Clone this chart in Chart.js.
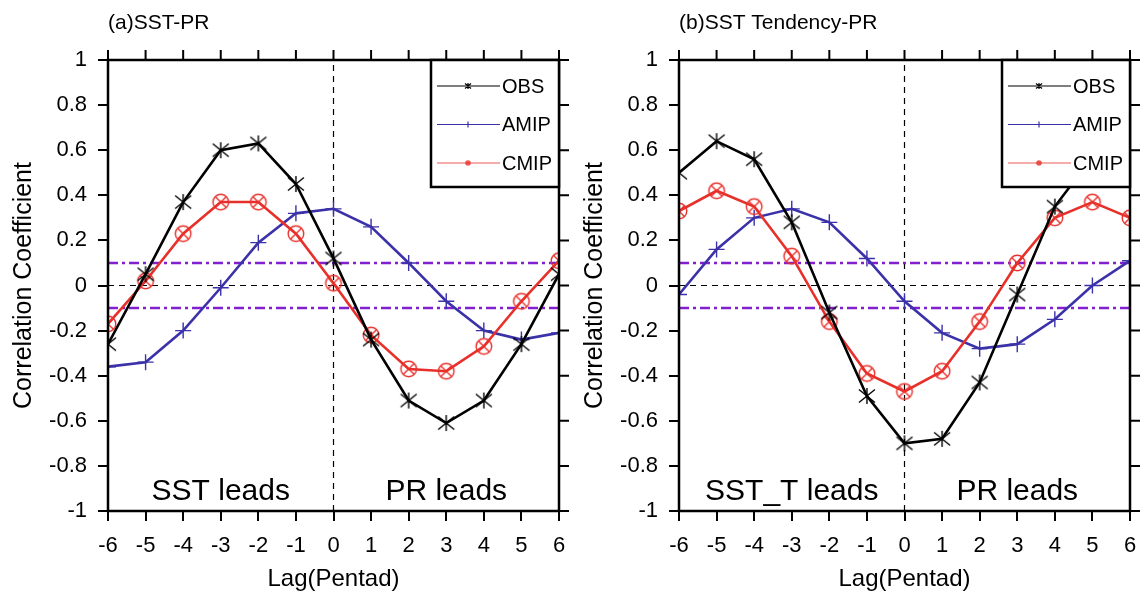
<!DOCTYPE html>
<html>
<head>
<meta charset="utf-8">
<script src="https://cdn.jsdelivr.net/npm/chart.js@4.4.1/dist/chart.umd.min.js"></script>
<style>
  body { margin: 0; background: #fff; }
  .panel { position: absolute; top: 0; width: 572px; height: 598px; }
</style>
</head>
<body>
<div class="panel" style="left:0"><canvas id="chartA" width="572" height="598"></canvas></div>
<div class="panel" style="left:571px"><canvas id="chartB" width="572" height="598"></canvas></div>
<script>
// lag in pentads
const lags = [-6, -5, -4, -3, -2, -1, 0, 1, 2, 3, 4, 5, 6];

// (a) SST-PR
const obsA  = [-0.26, 0.05, 0.37, 0.60, 0.63, 0.45, 0.12, -0.24, -0.51, -0.61, -0.51, -0.26, 0.05];
const amipA = [-0.36, -0.34, -0.20, -0.01, 0.19, 0.32, 0.34, 0.26, 0.10, -0.07, -0.20, -0.24, -0.21];
const cmipA = [-0.17, 0.02, 0.23, 0.37, 0.37, 0.23, 0.01, -0.22, -0.37, -0.38, -0.27, -0.07, 0.11];

// (b) SST tendency-PR
const obsB  = [0.50, 0.64, 0.56, 0.28, -0.12, -0.49, -0.70, -0.68, -0.43, -0.04, 0.35, 0.57, 0.61];
const amipB = [-0.04, 0.16, 0.30, 0.34, 0.28, 0.12, -0.07, -0.21, -0.28, -0.26, -0.15, 0.00, 0.11];
const cmipB = [0.33, 0.42, 0.35, 0.13, -0.16, -0.39, -0.47, -0.38, -0.16, 0.10, 0.30, 0.37, 0.30];

const seriesNames = ['OBS', 'AMIP', 'CMIP'];
const sigLevel = 0.1;   // significance lines
const leadLabelY = -0.95;

const FONT = "'Liberation Sans', Arial, Helvetica, sans-serif";
const colObs = '#000000';
const colAmip = '#3b31a8';
const colCmip = '#e8302a';
const colSig = '#8220d0';

function makeMarker(size, draw) {
    const c = document.createElement('canvas');
    c.width = c.height = size;
    const ctx = c.getContext('2d');
    draw(ctx, size / 2);
    return c;
}

// asterisk
const obsMarker = makeMarker(20, (ctx, m) => {
    ctx.strokeStyle = colObs;
    ctx.lineWidth = 1.4;
    ctx.beginPath();
    ctx.moveTo(m, m - 8); ctx.lineTo(m, m + 8);
    ctx.moveTo(m - 8, m - 6.5); ctx.lineTo(m + 8, m + 6.5);
    ctx.moveTo(m - 8, m + 6.5); ctx.lineTo(m + 8, m - 6.5);
    ctx.stroke();
});

// circle with x
const cmipMarker = makeMarker(20, (ctx, m) => {
    ctx.strokeStyle = colCmip;
    ctx.lineWidth = 1.4;
    ctx.beginPath();
    ctx.arc(m, m, 7.8, 0, Math.PI * 2);
    ctx.stroke();
    const d = 7.8 * Math.SQRT1_2;
    ctx.beginPath();
    ctx.moveTo(m - d, m - d); ctx.lineTo(m + d, m + d);
    ctx.moveTo(m - d, m + d); ctx.lineTo(m + d, m - d);
    ctx.stroke();
});

function pts(values) {
    return lags.map((x, i) => ({ x: x, y: values[i] }));
}

function hLine(y) {
    return [{ x: lags[0], y: y }, { x: lags[lags.length - 1], y: y }];
}

// frame, mirrored ticks, titles, legend
const panelDecor = {
    id: 'panelDecor',
    afterDraw(chart, args, opts) {
        const ctx = chart.ctx;
        const a = chart.chartArea;
        const xs = chart.scales.x;
        const ys = chart.scales.y;
        ctx.save();
        ctx.strokeStyle = '#000';
        ctx.lineWidth = 2;
        ctx.beginPath();
        xs.ticks.forEach(t => {
            const px = xs.getPixelForValue(t.value);
            ctx.moveTo(px, a.top); ctx.lineTo(px, a.top - 10);
        });
        ys.ticks.forEach(t => {
            const py = ys.getPixelForValue(t.value);
            ctx.moveTo(a.right, py); ctx.lineTo(a.right + 10, py);
        });
        ctx.stroke();
        ctx.lineWidth = 2.5;
        ctx.strokeRect(a.left, a.top, a.right - a.left, a.bottom - a.top);

        ctx.fillStyle = '#000';
        // panel title
        ctx.font = '21px ' + FONT;
        ctx.textAlign = 'left';
        ctx.textBaseline = 'alphabetic';
        ctx.fillText(opts.title, a.left, 29);

        // axis titles
        ctx.font = '24px ' + FONT;
        ctx.textAlign = 'center';
        ctx.fillText('Lag(Pentad)', (a.left + a.right) / 2, 586);
        ctx.save();
        ctx.translate(31, (a.top + a.bottom) / 2);
        ctx.rotate(-Math.PI / 2);
        ctx.font = '25px ' + FONT;
        ctx.fillText('Correlation Coefficient', 0, 0);
        ctx.restore();

        // lead annotations
        ctx.font = '30px ' + FONT;
        ctx.fillText(opts.leadLeft, xs.getPixelForValue(-3), ys.getPixelForValue(leadLabelY));
        ctx.fillText('PR leads', xs.getPixelForValue(3), ys.getPixelForValue(leadLabelY));

        // legend box
        const bx = a.right - 128, by = a.top, bh = 127;
        ctx.fillStyle = '#fff';
        ctx.fillRect(bx, by, a.right - bx, bh);
        ctx.lineWidth = 2.5;
        ctx.strokeRect(bx, by, a.right - bx, bh);
        const cols = [colObs, colAmip, colCmip];
        ctx.font = '20px ' + FONT;
        ctx.textAlign = 'left';
        ctx.textBaseline = 'middle';
        seriesNames.forEach((name, i) => {
            const y = by + 26 + i * 38.5;
            ctx.strokeStyle = cols[i];
            ctx.globalAlpha = i === 2 ? 0.8 : 1;
            ctx.lineWidth = 1.2;
            ctx.beginPath();
            ctx.moveTo(bx + 6, y); ctx.lineTo(bx + 69, y);
            ctx.stroke();
            const mx = bx + 37;
            ctx.beginPath();
            if (i === 0) {
                ctx.moveTo(mx, y - 3); ctx.lineTo(mx, y + 3);
                ctx.moveTo(mx - 3, y - 2.5); ctx.lineTo(mx + 3, y + 2.5);
                ctx.moveTo(mx - 3, y + 2.5); ctx.lineTo(mx + 3, y - 2.5);
                ctx.stroke();
            } else if (i === 1) {
                ctx.moveTo(mx, y - 3); ctx.lineTo(mx, y + 3);
                ctx.stroke();
            } else {
                ctx.fillStyle = cols[i];
                ctx.arc(mx, y, 2.8, 0, Math.PI * 2);
                ctx.fill();
            }
            ctx.globalAlpha = 1;
            ctx.fillStyle = '#000';
            ctx.fillText(name, bx + 71, y + 1);
        });
        ctx.restore();
    }
};

function buildPanel(id, title, leadLeft, obs, amip, cmip) {
    const ctx = document.getElementById(id).getContext('2d');
    return new Chart(ctx, {
        type: 'line',
        data: {
            datasets: [
                {
                    label: seriesNames[0], data: pts(obs),
                    borderColor: colObs, borderWidth: 2.6,
                    pointStyle: obsMarker, pointRadius: 8
                },
                {
                    label: seriesNames[2], data: pts(cmip),
                    borderColor: colCmip, borderWidth: 2.6,
                    pointStyle: cmipMarker, pointRadius: 8
                },
                {
                    label: seriesNames[1], data: pts(amip),
                    borderColor: colAmip, borderWidth: 2.6,
                    pointStyle: 'cross', pointRadius: 8, pointBorderWidth: 1.4,
                    pointBorderColor: colAmip
                },
                {
                    label: 'sig+', data: hLine(sigLevel),
                    borderColor: colSig, borderWidth: 2.5, borderDash: [10, 4, 3, 4], pointRadius: 0
                },
                {
                    label: 'sig-', data: hLine(-sigLevel),
                    borderColor: colSig, borderWidth: 2.5, borderDash: [10, 4, 3, 4], pointRadius: 0
                },
                {
                    label: 'zero', data: hLine(0),
                    borderColor: '#000', borderWidth: 1.2, borderDash: [6, 5], pointRadius: 0
                },
                {
                    label: 'lag0', data: [{ x: 0, y: -1 }, { x: 0, y: 1 }],
                    borderColor: '#000', borderWidth: 1.2, borderDash: [6, 5], pointRadius: 0
                }
            ]
        },
        options: {
            responsive: false,
            animation: false,
            devicePixelRatio: 1,
            layout: { padding: { top: 60, right: 13, left: 0, bottom: 0 } },
            elements: { line: { tension: 0, fill: false } },
            scales: {
                x: {
                    type: 'linear', min: -6, max: 6,
                    ticks: { stepSize: 1, color: '#000', padding: 12, font: { size: 22, family: FONT } },
                    grid: { drawOnChartArea: false, tickLength: 10, color: '#000', lineWidth: 2 },
                    border: { display: false },
                    afterFit(s) { s.height = 87; s.paddingLeft = 0; s.paddingRight = 0; }
                },
                y: {
                    type: 'linear', min: -1, max: 1,
                    ticks: {
                        stepSize: 0.2, color: '#000', padding: 11, font: { size: 22, family: FONT },
                        callback: v => String(Number(v.toFixed(1)))
                    },
                    grid: { drawOnChartArea: false, tickLength: 10, color: '#000', lineWidth: 2 },
                    border: { display: false },
                    afterFit(s) { s.width = 108; s.paddingTop = 0; s.paddingBottom = 0; }
                }
            },
            plugins: {
                legend: { display: false },
                tooltip: { enabled: false },
                panelDecor: { title: title, leadLeft: leadLeft }
            }
        },
        plugins: [panelDecor]
    });
}

buildPanel('chartA', '(a)SST-PR', 'SST leads', obsA, amipA, cmipA);
buildPanel('chartB', '(b)SST Tendency-PR', 'SST_T leads', obsB, amipB, cmipB);
</script>
</body>
</html>
